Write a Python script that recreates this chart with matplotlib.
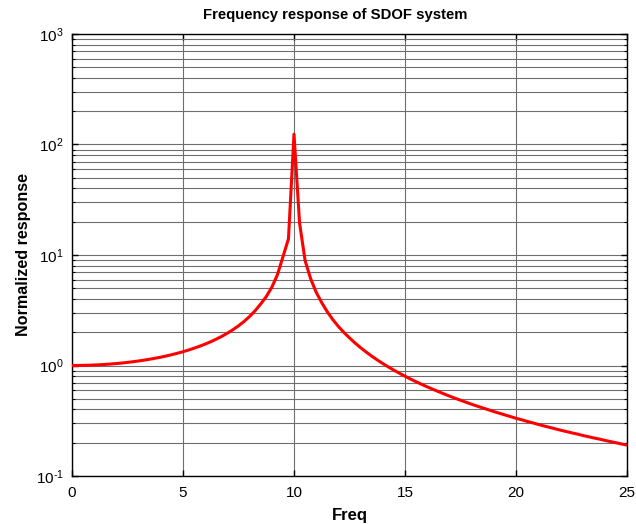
import matplotlib
matplotlib.use("Agg")
import matplotlib.pyplot as plt
from matplotlib.ticker import LogLocator, FixedLocator, NullFormatter, FuncFormatter
import math

plt.rcParams['font.family'] = ['Liberation Sans', 'DejaVu Sans']
plt.rcParams['mathtext.fontset'] = 'custom'
plt.rcParams['mathtext.rm'] = 'Liberation Sans'
plt.rcParams['mathtext.it'] = 'Liberation Sans:italic'
plt.rcParams['mathtext.bf'] = 'Liberation Sans:bold'
plt.rcParams['axes.unicode_minus'] = False

title = "Frequency response of SDOF system"
xlabel = "Freq"
ylabel = "Normalized response"
xticks = [0, 5, 10, 15, 20, 25]

freq = [i * 0.25 for i in range(101)]
response = [
    1.000, 1.001, 1.003, 1.006, 1.010, 1.016, 1.023, 1.032, 1.042, 1.053,
    1.067, 1.082, 1.099, 1.118, 1.140, 1.164, 1.190, 1.220, 1.254, 1.291,
    1.333, 1.380, 1.434, 1.494, 1.562, 1.641, 1.732, 1.837, 1.961, 2.108,
    2.286, 2.504, 2.778, 3.131, 3.604, 4.20, 5.10, 6.60, 9.60, 14.0,
    124.0, 19.5, 8.9, 6.1, 4.6, 3.70, 3.06, 2.60, 2.255, 1.990,
    1.778, 1.598, 1.449, 1.324, 1.216, 1.123, 1.042, 0.970, 0.907, 0.851,
    0.800, 0.754, 0.713, 0.675, 0.641, 0.610, 0.581, 0.554, 0.529, 0.506,
    0.485, 0.465, 0.446, 0.429, 0.413, 0.398, 0.383, 0.370, 0.357, 0.345,
    0.333, 0.323, 0.312, 0.303, 0.293, 0.284, 0.276, 0.268, 0.260, 0.253,
    0.246, 0.240, 0.233, 0.227, 0.221, 0.216, 0.210, 0.205, 0.200, 0.195,
    0.1905,
]


def log_label(v, pos):
    e = int(round(math.log10(v)))
    s = str(e).replace('-', '\u2010')
    return r'$\mathdefault{10^{%s}}$' % s


fig = plt.figure(figsize=(6.36, 5.24), dpi=100)
ax = fig.add_axes([72/636, 1-476/524, (627-72)/636, (476-34)/524])

ax.plot(freq, response, color='#ff0000', lw=2.2, zorder=3)
ax.set_yscale('log')
ax.set_xlim(0, 25)
ax.set_ylim(0.1, 1000)
ax.xaxis.set_major_locator(FixedLocator(xticks))
ax.yaxis.set_major_locator(LogLocator(base=10, numticks=10))
ax.yaxis.set_major_formatter(FuncFormatter(log_label))
ax.yaxis.set_minor_locator(LogLocator(base=10, subs=range(2, 10), numticks=20))
ax.yaxis.set_minor_formatter(NullFormatter())

ax.grid(True, which='major', axis='both', color='#6e6e6e', lw=0.8)
ax.grid(True, which='minor', axis='y', color='#6e6e6e', lw=0.8)
ax.set_axisbelow(True)

ax.tick_params(which='both', direction='in', top=True, right=True, labelsize=11, colors='black')
ax.tick_params(which='major', length=4, width=1)
ax.tick_params(axis='x', which='major', pad=7)
ax.tick_params(axis='y', which='major', pad=6)
ax.tick_params(which='minor', length=2, width=0.8)
for s in ax.spines.values():
    s.set_linewidth(1.0)

ax.set_title(title, fontsize=10.7, fontweight='bold', pad=11, x=0.475)
ax.set_xlabel(xlabel, fontsize=12, fontweight='bold', labelpad=6)
ax.set_ylabel(ylabel, fontsize=11.6, fontweight='bold', labelpad=3)

fig.savefig("out.png", dpi=100)
